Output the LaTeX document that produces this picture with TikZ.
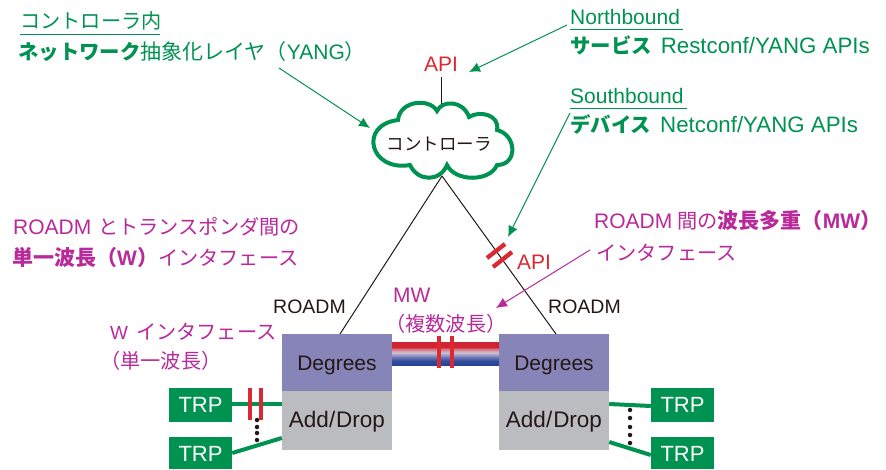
\documentclass[tikz,border=0pt]{standalone}
\usepackage{fontspec}
\setmainfont{Liberation Sans}
\newfontfamily\cjkf{Noto Sans CJK JP}
\usetikzlibrary{arrows.meta}
\definecolor{gr}{HTML}{009250}
\definecolor{mg}{HTML}{B8299A}
\definecolor{rd}{HTML}{DC2832}
\definecolor{deg}{HTML}{8784B8}
\definecolor{adg}{HTML}{BBBCC0}
\definecolor{ink}{HTML}{231815}
\pgfdeclareverticalshading{wdm}{100bp}{color(0bp)=(rgb,255:red,38;green,66;blue,148);color(25bp)=(rgb,255:red,38;green,66;blue,148);color(34bp)=(rgb,255:red,48;green,76;blue,155);color(42bp)=(rgb,255:red,110;green,120;blue,180);color(52bp)=(rgb,255:red,205;green,195;blue,210);color(60bp)=(rgb,255:red,215;green,110;blue,125);color(64bp)=(rgb,255:red,210;green,35;blue,50);color(75bp)=(rgb,255:red,210;green,35;blue,50);color(100bp)=(rgb,255:red,210;green,35;blue,50)}
\newcommand\J[1]{{\fontsize{20.2}{21}\selectfont\cjkf #1}}
\newcommand\Jm[1]{{\fontsize{21}{21}\selectfont\cjkf #1}}
\newcommand\Js[1]{{\fontsize{17.5}{18}\selectfont\cjkf #1}}
\newcommand\JK[1]{{\fontsize{20.4}{21}\selectfont\cjkf\bfseries #1}}
\newcommand\JB[1]{{\fontsize{21}{21}\selectfont\cjkf\bfseries #1}}
\tikzset{
  x=1pt,y=-1pt,
  lab/.style={anchor=base west,inner sep=0pt,font=\fontsize{21}{21}\selectfont},
  glab/.style={lab,text=gr},
  mlab/.style={lab,text=mg},
  blk/.style={anchor=base,inner sep=0pt,text=ink,font=\fontsize{19.5}{20}\selectfont},
  redl/.style={anchor=base,inner sep=0pt,text=rd,font=\fontsize{21}{21}\selectfont},
  degbox/.style={fill=deg,minimum width=110pt,minimum height=57pt,inner sep=0pt,text=ink,text height=16pt,text depth=0pt,font=\fontsize{21}{21}\selectfont},
  addbox/.style={fill=adg,minimum width=110pt,minimum height=59pt,inner sep=0pt,text=ink,text height=14pt,text depth=0pt,font=\fontsize{22.5}{23}\selectfont},
  trp/.style={fill=gr,text=white,minimum width=63pt,inner sep=0pt,text depth=0pt,font=\fontsize{22}{22}\selectfont},
  glink/.style={draw=gr,line width=4pt},
  garrow/.style={draw=gr,line width=1pt,-{Latex[length=11pt,width=10pt]}},
  marrow/.style={draw=mg,line width=1pt,-{Latex[length=11pt,width=10pt]}},
  ulgr/.style={draw=gr,line width=0.9pt},
  tick/.style={draw=rd,line width=4.3pt},
  thin/.style={draw=ink,line width=1pt},
  dotp/.style={circle,fill=ink,minimum size=4.5pt,inner sep=0pt},
}
\begin{document}
\begin{tikzpicture}
\useasboundingbox (0,0) rectangle (886,469);
% cloud
\draw[gr,line width=4pt,fill=white] (437,111)
  .. controls (442,100) and (463,100) .. (469,117)
  .. controls (480,110) and (500,115) .. (497,130)
  .. controls (517,135) and (518,165) .. (497,165)
  .. controls (490,182) and (455,182) .. (447,165)
  .. controls (440,182) and (418,182) .. (410,165)
  .. controls (370,172) and (358,125) .. (398,120)
  .. controls (400,100) and (430,98) .. cycle;
\node[anchor=center,inner sep=0pt,text=ink] (ctl) at (439,144) {\Js{コントローラ}};
\coordinate (apex) at (442,176);
\coordinate (cloudtop) at (441,104);
% boxes
\node[degbox] (d1) at (337,362.5) {Degrees};
\node[addbox] (a1) at (337,420.5) {Add/\kern1pt Drop};
\node[degbox] (d2) at (554,362.5) {Degrees};
\node[addbox] (a2) at (554,420.5) {Add/\kern1pt Drop};
\shade[shading=wdm] (392,342) rectangle (499,365);
\node[trp,minimum height=34pt,text height=14pt] (t1) at (200.5,405) {TRP};
\node[trp,minimum height=32pt,text height=17pt] (t2) at (200.5,453) {TRP};
\node[trp,minimum height=34pt,text height=14pt] (t3) at (682.5,405) {TRP};
\node[trp,minimum height=32pt,text height=17pt] (t4) at (682.5,453) {TRP};
% links
\coordinate (d1top) at (340,334);
\coordinate (d2top) at (556,334);
\draw[thin] (apex) -- (d1top);
\draw[thin] (apex) -- (d2top);
\node[redl] (api1) at (441,71) {API};
\draw[thin] (441,77) -- (cloudtop);
\draw[glink] (t1.east |- 0,404) -- (a1.west |- 0,404);
\draw[glink] (t2.east |- 0,453) -- (a1.west |- 0,438);
\draw[glink] (a2.east |- 0,404) -- (t3.west |- 0,406);
\draw[glink] (a2.east |- 0,442) -- (t4.west |- 0,455);
% ticks
\draw[tick] (250,388) -- (250,420);
\draw[tick] (261,388) -- (261,420);
\draw[tick] (439,336) -- (439,368);
\draw[tick] (452,336) -- (452,368);
\draw[tick] (487,258) -- (505,244);
\draw[tick] (493,267) -- (512,252);
% dots
\foreach \y in {420,427,433,440} \node[dotp] at (257,\y) {};
\foreach \y in {410,418,427,435,443} \node[dotp] at (630,\y) {};
% green text
\node[glab] (g1) at (20,28) {\J{コントローラ内}};
\draw[ulgr] (20,34) -- (160,34);
\node[glab] (g2) at (18,59) {\JK{ネットワーク}\Jm{抽象化レイヤ（}YANG\Jm{）}};
\node[glab] (g3) at (570,24) {Northbound};
\draw[ulgr] (570,29) -- (683,29);
\node[glab] (g4) at (570,53.5) {\JK{サービス}\kern9pt{\fontsize{22.3}{22}\selectfont Restconf/YANG APIs}};
\node[glab] (g5) at (570,103) {Southbound};
\draw[ulgr] (570,108) -- (687,108);
\node[glab] (g6) at (570,132) {\JK{デバイス}\kern9pt{\fontsize{22.3}{22}\selectfont Netconf/YANG APIs}};
% arrows
\coordinate (s1) at (279,68);
\coordinate (e1) at (370,128);
\coordinate (s2) at (567,25);
\coordinate (e2) at (469,72);
\coordinate (s3) at (570,113);
\coordinate (e3) at (508,237);
\coordinate (s4) at (590,250);
\coordinate (e4) at (496,308);
\draw[garrow] (s1) -- (e1);
\draw[garrow] (s2) -- (e2);
\draw[garrow] (s3) -- (e3);
\draw[marrow] (s4) -- (e4);
% magenta text
\node[mlab] (m1) at (13,234) {ROADM\kern7pt\J{とトランスポンダ間の}};
\node[mlab] (m2) at (12,265) {\JB{単一波長（}{\bfseries W}\JB{）}\J{インタフェース}};
\node[mlab] (m3) at (594,228) {ROADM\kern5pt\J{間の}\JB{波長多重（}{\bfseries MW}\JB{）}};
\node[mlab] (m4) at (596,260) {\J{インタフェース}};
\node[mlab] (m5) at (393,302) {MW};
\node[mlab] (m6) at (385,331) {\J{（複数波長）}};
\node[mlab] (m7) at (110,339) {{\fontsize{19}{19}\selectfont W}\kern8pt\J{インタフェース}};
\node[mlab] (m8) at (100,368) {\J{（単一波長）}};
% other labels
\node[redl] (api2) at (534,269) {API};
\node[blk] (r1) at (309.5,313) {ROADM};
\node[blk] (r2) at (584.5,313) {ROADM};
\end{tikzpicture}
\end{document}
